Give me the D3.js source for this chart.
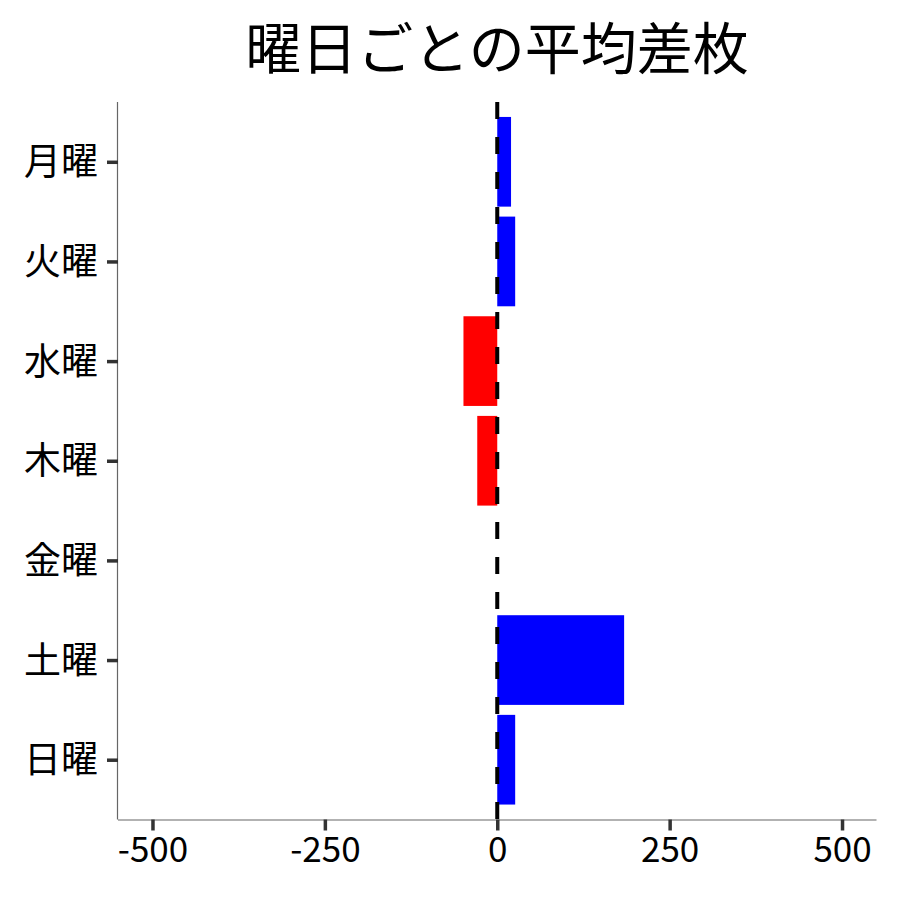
<!DOCTYPE html>
<html><head><meta charset="utf-8">
<script src="https://cdn.jsdelivr.net/npm/d3@7"></script>
<style>
body{margin:0;background:#fff;}
text{font-family:"Noto Sans CJK JP","Noto Sans",sans-serif;}
</style></head>
<body>
<svg id="chart" width="900" height="900"></svg>
<script>
const days = ["月曜","火曜","水曜","木曜","金曜","土曜","日曜"];
const avgDiff = [20, 26, -49, -29, 0, 184, 26];
const xTicks = [-500, -250, 0, 250, 500];
const title = "曜日ごとの平均差枚";

const svg = d3.select("#chart");
const pL = 118, pR = 876.5, pT = 102, pB = 819.5;

const x = d3.scaleLinear().domain([-550, 550]).range([pL, pR]);
const y = d3.scalePoint().domain(days).range([pT, pB]).padding(0.6);
const bh = y.step() * 0.9;

svg.append("rect").attr("width",900).attr("height",900).attr("fill","#fff");

// bars
svg.append("g").selectAll("rect").data(days.map((d,i)=>({d, v: avgDiff[i]}))).join("rect")
  .attr("x", d => x(Math.min(0, d.v)))
  .attr("width", d => Math.abs(x(d.v) - x(0)))
  .attr("y", d => y(d.d) - bh/2)
  .attr("height", bh)
  .attr("fill", d => d.v >= 0 ? "#0000ff" : "#ff0000");

// dashed zero line
svg.append("line")
  .attr("x1", x(0)).attr("x2", x(0))
  .attr("y1", pT).attr("y2", pB)
  .attr("stroke", "#000").attr("stroke-width", 4)
  .attr("stroke-dasharray", "17 18");

// x axis
const xAxis = svg.append("g").attr("transform", `translate(0,${pB})`)
  .call(d3.axisBottom(x).tickValues(xTicks).tickSize(11).tickPadding(6).tickFormat(d => String(d)));
xAxis.select(".domain").attr("stroke", "#666").attr("stroke-width", 1.2).attr("d", `M${pL},0.5H${pR}`);
xAxis.selectAll(".tick line").attr("stroke", "#333").style("stroke-width", "3.5px");
xAxis.selectAll(".tick text").attr("fill", "#000").style("font-size", "35px").attr("dy", "0.72em");

// y axis
const yAxis = svg.append("g").attr("transform", `translate(${pL},0)`)
  .call(d3.axisLeft(y).tickSize(11).tickPadding(9));
yAxis.select(".domain").attr("stroke", "#666").attr("stroke-width", 1.2).attr("d", `M-0.5,${pT}V${pB}`);
yAxis.selectAll(".tick line").attr("stroke", "#333").style("stroke-width", "3.5px");
yAxis.selectAll(".tick text").attr("fill", "#000").style("font-size", "37px").attr("dy", "0.35em");

// title
svg.append("text").attr("x", 497).attr("y", 44)
  .attr("text-anchor", "middle").attr("dominant-baseline", "central")
  .style("font-size", "56px").attr("fill", "#000").text(title);
</script>
</body></html>
